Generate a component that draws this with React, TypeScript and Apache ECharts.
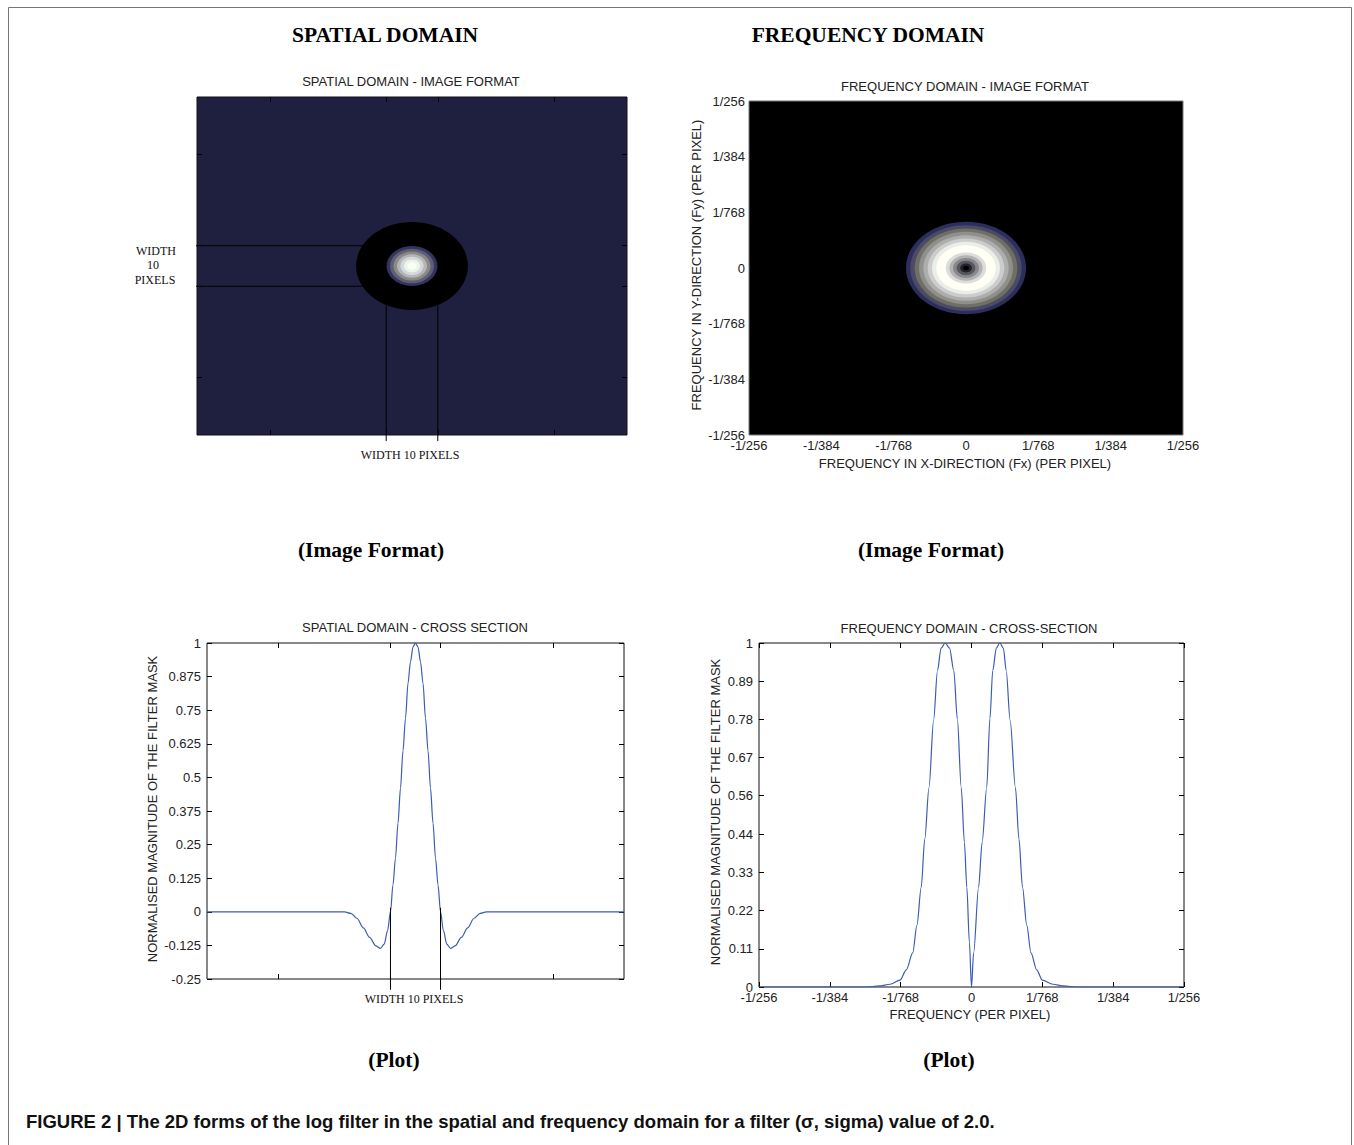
import React, { useEffect, useRef } from "react";
import * as echarts from "echarts";

// ---------- data ----------
// Spatial domain (x in arbitrary pixel units 0..100, centre at 50)
const spatialTicks = [17, 44, 56, 83];
const widthMarks = [44, 56];

const spatialDiskRadius = 13; // black (negative) zone of the image
const spatialBandRadii = [5.9, 5.1, 4.3, 3.5, 2.7, 1.9, 1.1];
const spatialBandColors = ["#34345e", "#5e5e78", "#8a8a80", "#b4b4bc", "#d4d8d8", "#ecf4ea", "#f8fff6"];

const spatialX = [0, 33, 34.5, 36, 37.5, 39, 40.5, 41.6, 42.5, 43.3, 44, 44.6, 45.2, 45.8, 46.4, 47, 47.6, 48.2, 48.8, 49.4, 50, 50.6, 51.2, 51.8, 52.4, 53, 53.6, 54.2, 54.8, 55.4, 56, 56.7, 57.5, 58.4, 59.5, 61, 62.5, 64, 65.5, 67, 100];
const spatialY = [0, 0, -0.006, -0.025, -0.06, -0.095, -0.127, -0.136, -0.12, -0.07, 0, 0.1, 0.2, 0.33, 0.46, 0.6, 0.72, 0.85, 0.93, 0.985, 1, 0.985, 0.93, 0.85, 0.72, 0.6, 0.46, 0.33, 0.2, 0.1, 0, -0.07, -0.12, -0.136, -0.127, -0.095, -0.06, -0.025, -0.006, 0, 0];

// Frequency domain (x in units of 1/768 per pixel)
const freqTickValues = [-3, -2, -1, 0, 1, 2, 3];
const freqTickLabels = ["-1/256", "-1/384", "-1/768", "0", "1/768", "1/384", "1/256"];

const freqBandRadii = [0.83, 0.77, 0.71, 0.65, 0.59, 0.53, 0.47, 0.41, 0.28, 0.23, 0.18, 0.13, 0.08, 0.04];
const freqBandColors = ["#2d2d5e", "#4b4b66", "#6f6f64", "#8f8f8c", "#adadad", "#cccccc", "#e9efe8", "#fffff5", "#dcdcdc", "#b3b3b3", "#88888c", "#56565e", "#222228", "#000000"];

const freqX = [-3, -1.5, -1.3, -1.15, -1.01, -0.92, -0.83, -0.77, -0.71, -0.66, -0.6, -0.535, -0.48, -0.43, -0.37, -0.31, -0.25, -0.2, -0.145, -0.1, -0.066, -0.03, 0, 0.03, 0.1, 0.15, 0.215, 0.26, 0.3, 0.35, 0.4, 0.45, 0.49, 0.545, 0.62, 0.67, 0.72, 0.78, 0.84, 0.92, 1.0, 1.15, 1.3, 1.5, 3];
const freqY = [0, 0, 0.003, 0.008, 0.02, 0.05, 0.099, 0.18, 0.29, 0.43, 0.58, 0.776, 0.92, 0.985, 1, 0.985, 0.92, 0.78, 0.58, 0.42, 0.29, 0.13, 0, 0.099, 0.29, 0.42, 0.58, 0.78, 0.92, 0.985, 1, 0.985, 0.92, 0.776, 0.58, 0.43, 0.29, 0.18, 0.099, 0.05, 0.02, 0.008, 0.003, 0, 0];

const freqYTickValues = [0, 0.111, 0.222, 0.333, 0.444, 0.556, 0.667, 0.778, 0.889, 1];
const freqYTickLabels = ["0", "0.11", "0.22", "0.33", "0.44", "0.56", "0.67", "0.78", "0.89", "1"];

// ---------- helpers ----------
const SANS = "'Liberation Sans', Arial, sans-serif";
const SERIF = "'Liberation Serif', 'Times New Roman', serif";
const LABEL_COLOR = "#222";
const CURVE_COLOR = "#3b5cb6";

const lookup = (values: number[], labels: string[]) => (v: number) => {
  let best = 0;
  for (let i = 1; i < values.length; i++) if (Math.abs(values[i] - v) < Math.abs(values[best] - v)) best = i;
  return labels[best];
};

function axis(gridIndex: number, position: string, min: number, max: number, opts: any = {}) {
  return {
    type: "value",
    gridIndex,
    position,
    min,
    max,
    inverse: opts.inverse || false,
    interval: opts.interval,
    axisLine: { show: false, onZero: false },
    splitLine: { show: false },
    axisTick: opts.ticks
      ? { show: true, inside: true, length: 5, customValues: opts.ticks, lineStyle: { color: "#000", width: 1 } }
      : opts.intervalTicks
      ? { show: true, inside: true, length: 5, lineStyle: { color: "#000", width: 1 } }
      : { show: false },
    axisLabel: opts.labels
      ? {
          show: true,
          color: LABEL_COLOR,
          fontFamily: SANS,
          fontSize: 13,
          margin: opts.margin ?? 5,
          showMinLabel: true,
          showMaxLabel: true,
          formatter: opts.formatter,
          customValues: opts.labelValues,
        }
      : { show: false },
  };
}

const ellipseRender = (colors: string[]) => (params: any, api: any) => {
  const c = api.coord([api.value(0), api.value(1)]);
  const s = api.size([api.value(2), api.value(2)]);
  return {
    type: "ellipse",
    shape: { cx: c[0], cy: c[1], rx: Math.abs(s[0]), ry: Math.abs(s[1]) },
    style: { fill: colors[params.dataIndex] },
  };
};

const txt = (text: string, x: number, y: number, font: any = {}) => ({
  type: "text",
  x,
  y,
  rotation: font.rotation || 0,
  scaleX: font.scaleX || 1,
  style: {
    text,
    fill: font.color || LABEL_COLOR,
    fontFamily: font.family || SANS,
    fontSize: font.size || 13,
    fontWeight: font.weight || "normal",
    align: font.align || "center",
    verticalAlign: "middle",
  },
});

const HEAD = { family: SERIF, size: 21.5, weight: "bold", color: "#000" };
const NOTE = { family: SERIF, size: 12, color: "#111" };

export default function App() {
  const ref = useRef<HTMLDivElement>(null);

  useEffect(() => {
    document.body.style.margin = "0";
    const chart = echarts.init(ref.current!, null, { renderer: "svg" });

    const spatialDiskData = [[50, 50, spatialDiskRadius], ...spatialBandRadii.map((r) => [50, 50, r])];
    const spatialDiskColors = ["#000000", ...spatialBandColors];
    const freqDiskData = freqBandRadii.map((r) => [0, 0, r]);

    const freqFmt = lookup(freqTickValues, freqTickLabels);
    const freqYFmt = lookup(freqYTickValues, freqYTickLabels);

    const annot = (xi: number, yi: number, pts: number[][]) => ({
      type: "line",
      xAxisIndex: xi,
      yAxisIndex: yi,
      data: pts,
      symbol: "none",
      clip: false,
      silent: true,
      z: 5,
      lineStyle: { color: "#000", width: 1 },
    });

    const option: any = {
      animation: false,
      backgroundColor: "#ffffff",
      grid: [
        { left: 197, top: 97, width: 430, height: 338, show: true, backgroundColor: "#1f1f3f", borderColor: "#111", borderWidth: 1 },
        { left: 749, top: 101, width: 434, height: 334, show: true, backgroundColor: "#000000", borderColor: "#777", borderWidth: 1 },
        { left: 207, top: 643, width: 417, height: 336, show: true, backgroundColor: "#ffffff", borderColor: "#111", borderWidth: 1 },
        { left: 759, top: 643, width: 425, height: 344, show: true, backgroundColor: "#ffffff", borderColor: "#111", borderWidth: 1 },
      ],
      xAxis: [
        axis(0, "bottom", 0, 100, { ticks: spatialTicks }),
        axis(0, "top", 0, 100, { ticks: spatialTicks }),
        axis(1, "bottom", -3, 3, { interval: 1, labels: true, formatter: freqFmt, margin: 4 }),
        axis(1, "top", -3, 3, { interval: 1 }),
        axis(2, "bottom", 0, 100, { ticks: spatialTicks }),
        axis(2, "top", 0, 100, { ticks: spatialTicks }),
        axis(3, "bottom", -3, 3, { interval: 1, intervalTicks: true, labels: true, formatter: freqFmt, margin: 4 }),
        axis(3, "top", -3, 3, { interval: 1, intervalTicks: true }),
      ],
      yAxis: [
        axis(0, "left", 0, 100, { ticks: spatialTicks, inverse: true }),
        axis(0, "right", 0, 100, { ticks: spatialTicks, inverse: true }),
        axis(1, "left", -3, 3, { interval: 1, labels: true, formatter: freqFmt, margin: 4 }),
        axis(1, "right", -3, 3, { interval: 1 }),
        axis(2, "left", -0.25, 1, { interval: 0.125, intervalTicks: true, labels: true, margin: 6 }),
        axis(2, "right", -0.25, 1, { interval: 0.125, intervalTicks: true }),
        axis(3, "left", 0, 1, { ticks: freqYTickValues, labels: true, labelValues: freqYTickValues, formatter: freqYFmt, margin: 6 }),
        axis(3, "right", 0, 1, { ticks: freqYTickValues }),
      ],
      series: [
        {
          type: "custom",
          xAxisIndex: 0,
          yAxisIndex: 0,
          renderItem: ellipseRender(spatialDiskColors),
          data: spatialDiskData,
          encode: { x: 0, y: 1 },
          silent: true,
          z: 2,
        },
        annot(0, 0, [[-1.2, widthMarks[0]], [40, widthMarks[0]]]),
        annot(0, 0, [[-1.2, widthMarks[1]], [40, widthMarks[1]]]),
        annot(0, 0, [[widthMarks[0], 60], [widthMarks[0], 101.8]]),
        annot(0, 0, [[widthMarks[1], 60], [widthMarks[1], 101.8]]),
        {
          type: "custom",
          xAxisIndex: 2,
          yAxisIndex: 2,
          renderItem: ellipseRender(freqBandColors),
          data: freqDiskData,
          encode: { x: 0, y: 1 },
          silent: true,
          z: 2,
        },
        {
          type: "line",
          xAxisIndex: 4,
          yAxisIndex: 4,
          data: spatialX.map((x, i) => [x, spatialY[i]]),
          symbol: "none",
          smooth: 0.3,
          smoothMonotone: "x",
          lineStyle: { color: CURVE_COLOR, width: 1.2 },
          z: 3,
        },
        annot(4, 4, [[widthMarks[0], 0.015], [widthMarks[0], -0.29]]),
        annot(4, 4, [[widthMarks[1], 0.015], [widthMarks[1], -0.29]]),
        {
          type: "line",
          xAxisIndex: 6,
          yAxisIndex: 6,
          data: freqX.map((x, i) => [x, freqY[i]]),
          symbol: "none",
          smooth: 0.3,
          smoothMonotone: "x",
          lineStyle: { color: CURVE_COLOR, width: 1.2 },
          z: 3,
        },
      ],
      graphic: [
        { type: "rect", shape: { x: 8.5, y: 7.5, width: 1343, height: 1160 }, style: { fill: "none", stroke: "#777", lineWidth: 1 }, silent: true },
        txt("SPATIAL DOMAIN", 385, 35, HEAD),
        txt("FREQUENCY DOMAIN", 868, 35, HEAD),
        txt("SPATIAL DOMAIN - IMAGE FORMAT", 411, 81),
        txt("FREQUENCY DOMAIN - IMAGE FORMAT", 965, 86),
        txt("WIDTH", 156, 251, NOTE),
        txt("10", 153, 265, NOTE),
        txt("PIXELS", 155, 280, NOTE),
        txt("WIDTH 10 PIXELS", 410, 455, NOTE),
        txt("FREQUENCY IN X-DIRECTION (Fx) (PER PIXEL)", 965, 463),
        txt("FREQUENCY IN Y-DIRECTION (Fy) (PER PIXEL)", 696, 265, { rotation: Math.PI / 2 }),
        txt("(Image Format)", 371, 550, HEAD),
        txt("(Image Format)", 931, 550, HEAD),
        txt("SPATIAL DOMAIN - CROSS SECTION", 415, 627),
        txt("FREQUENCY DOMAIN - CROSS-SECTION", 969, 628),
        txt("NORMALISED MAGNITUDE OF THE FILTER MASK", 152, 809, { rotation: Math.PI / 2 }),
        txt("NORMALISED MAGNITUDE OF THE FILTER MASK", 715, 812, { rotation: Math.PI / 2 }),
        txt("WIDTH 10 PIXELS", 414, 999, NOTE),
        txt("FREQUENCY (PER PIXEL)", 970, 1014),
        txt("(Plot)", 394, 1060, HEAD),
        txt("(Plot)", 949, 1060, HEAD),
        txt("FIGURE 2 | The 2D forms of the log filter in the spatial and frequency domain for a filter (σ, sigma) value of 2.0.", 26, 1121, {
          family: SANS,
          size: 18.5,
          weight: "bold",
          color: "#111",
          align: "left",
        }),
      ],
    };

    chart.setOption(option);
    return () => chart.dispose();
  }, []);

  return <div ref={ref} style={{ width: 1354, height: 1145, background: "#fff" }} />;
}
